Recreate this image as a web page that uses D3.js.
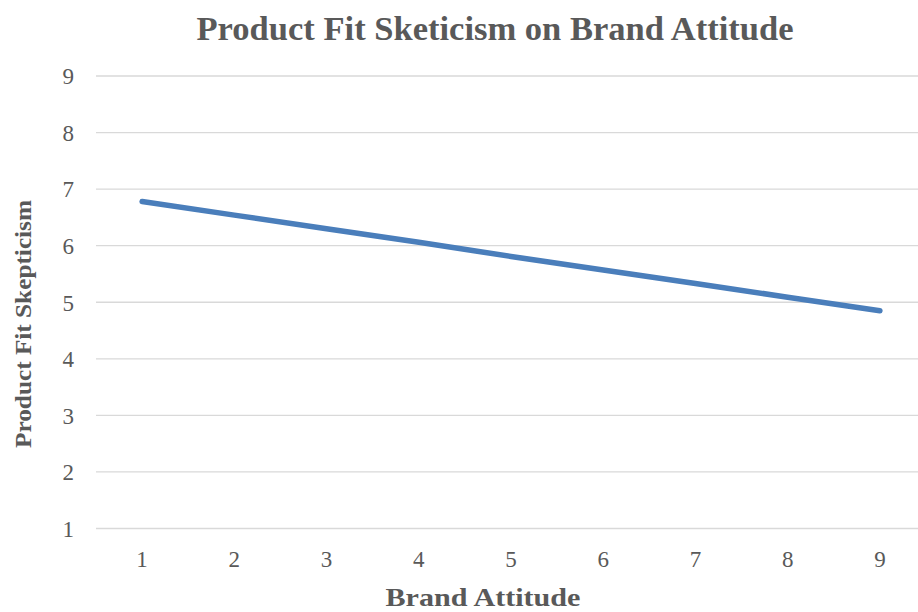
<!DOCTYPE html>
<html>
<head>
<meta charset="utf-8">
<script src="https://cdn.jsdelivr.net/npm/d3@7/dist/d3.min.js"></script>
<style>
  html, body { margin: 0; padding: 0; background: #fff; }
  svg { display: block; }
  text { font-family: "Liberation Serif", "Times New Roman", serif; fill: #595959; }
</style>
</head>
<body>
<svg id="chart" width="918" height="612"></svg>
<script>
// Brand attitude levels (x categories)
const categories = ["1", "2", "3", "4", "5", "6", "7", "8", "9"];
// Predicted product fit skepticism at each brand attitude level
const skepticism = [6.78, 6.54, 6.30, 6.06, 5.81, 5.57, 5.33, 5.09, 4.85];
// Y axis tick values
const yTicks = [1, 2, 3, 4, 5, 6, 7, 8, 9];

const titleText = "Product Fit Sketicism on Brand Attitude";
const xTitle = "Brand Attitude";
const yTitle = "Product Fit Skepticism";

const svg = d3.select("#chart");

const plot = { left: 96, right: 926, top: 76, bottom: 528.5 };

const x = d3.scaleBand()
  .domain(categories)
  .range([plot.left, plot.right])
  .padding(0);

const y = d3.scaleLinear()
  .domain([1, 9])
  .range([plot.bottom, plot.top]);

// Horizontal gridlines
svg.append("g")
  .selectAll("line")
  .data(yTicks)
  .join("line")
  .attr("x1", plot.left)
  .attr("x2", plot.right)
  .attr("y1", d => y(d))
  .attr("y2", d => y(d))
  .attr("stroke", "#d9d9d9")
  .attr("stroke-width", 1.3);

// Y axis tick labels
const yAxis = d3.axisLeft(y).tickValues(yTicks).tickSize(0).tickPadding(0).tickFormat(d3.format("d"));
const gy = svg.append("g")
  .attr("transform", `translate(${plot.left - 22},0)`)
  .call(yAxis);
gy.select(".domain").remove();
gy.selectAll("text")
  .attr("font-size", 23)
  .attr("font-family", "Liberation Serif, serif")
  .attr("fill", "#595959")
  .attr("dy", "0.34em");

// X axis tick labels
const xAxis = d3.axisBottom(x).tickSize(0).tickPadding(0);
const gx = svg.append("g")
  .attr("transform", `translate(0,${plot.bottom + 22})`)
  .call(xAxis);
gx.select(".domain").remove();
gx.selectAll("text")
  .attr("font-size", 23)
  .attr("font-family", "Liberation Serif, serif")
  .attr("fill", "#595959")
  .attr("dy", "0.72em");

// Data line
const line = d3.line()
  .x((d, i) => x(categories[i]) + x.bandwidth() / 2)
  .y(d => y(d));

svg.append("path")
  .datum(skepticism)
  .attr("d", line)
  .attr("fill", "none")
  .attr("stroke", "#4a7ebb")
  .attr("stroke-width", 5.5)
  .attr("stroke-linecap", "round")
  .attr("stroke-linejoin", "round");

// Chart title
svg.append("text")
  .attr("x", 495)
  .attr("y", 40)
  .attr("text-anchor", "middle")
  .attr("font-size", 34)
  .attr("font-weight", "bold")
  .attr("textLength", 597)
  .attr("lengthAdjust", "spacingAndGlyphs")
  .text(titleText);

// X axis title
svg.append("text")
  .attr("x", 483)
  .attr("y", 606)
  .attr("text-anchor", "middle")
  .attr("font-size", 25)
  .attr("font-weight", "bold")
  .attr("textLength", 195)
  .attr("lengthAdjust", "spacingAndGlyphs")
  .text(xTitle);

// Y axis title
svg.append("text")
  .attr("transform", "translate(31,324) rotate(-90)")
  .attr("text-anchor", "middle")
  .attr("font-size", 24)
  .attr("font-weight", "bold")
  .attr("textLength", 248)
  .attr("lengthAdjust", "spacingAndGlyphs")
  .text(yTitle);
</script>
</body>
</html>
